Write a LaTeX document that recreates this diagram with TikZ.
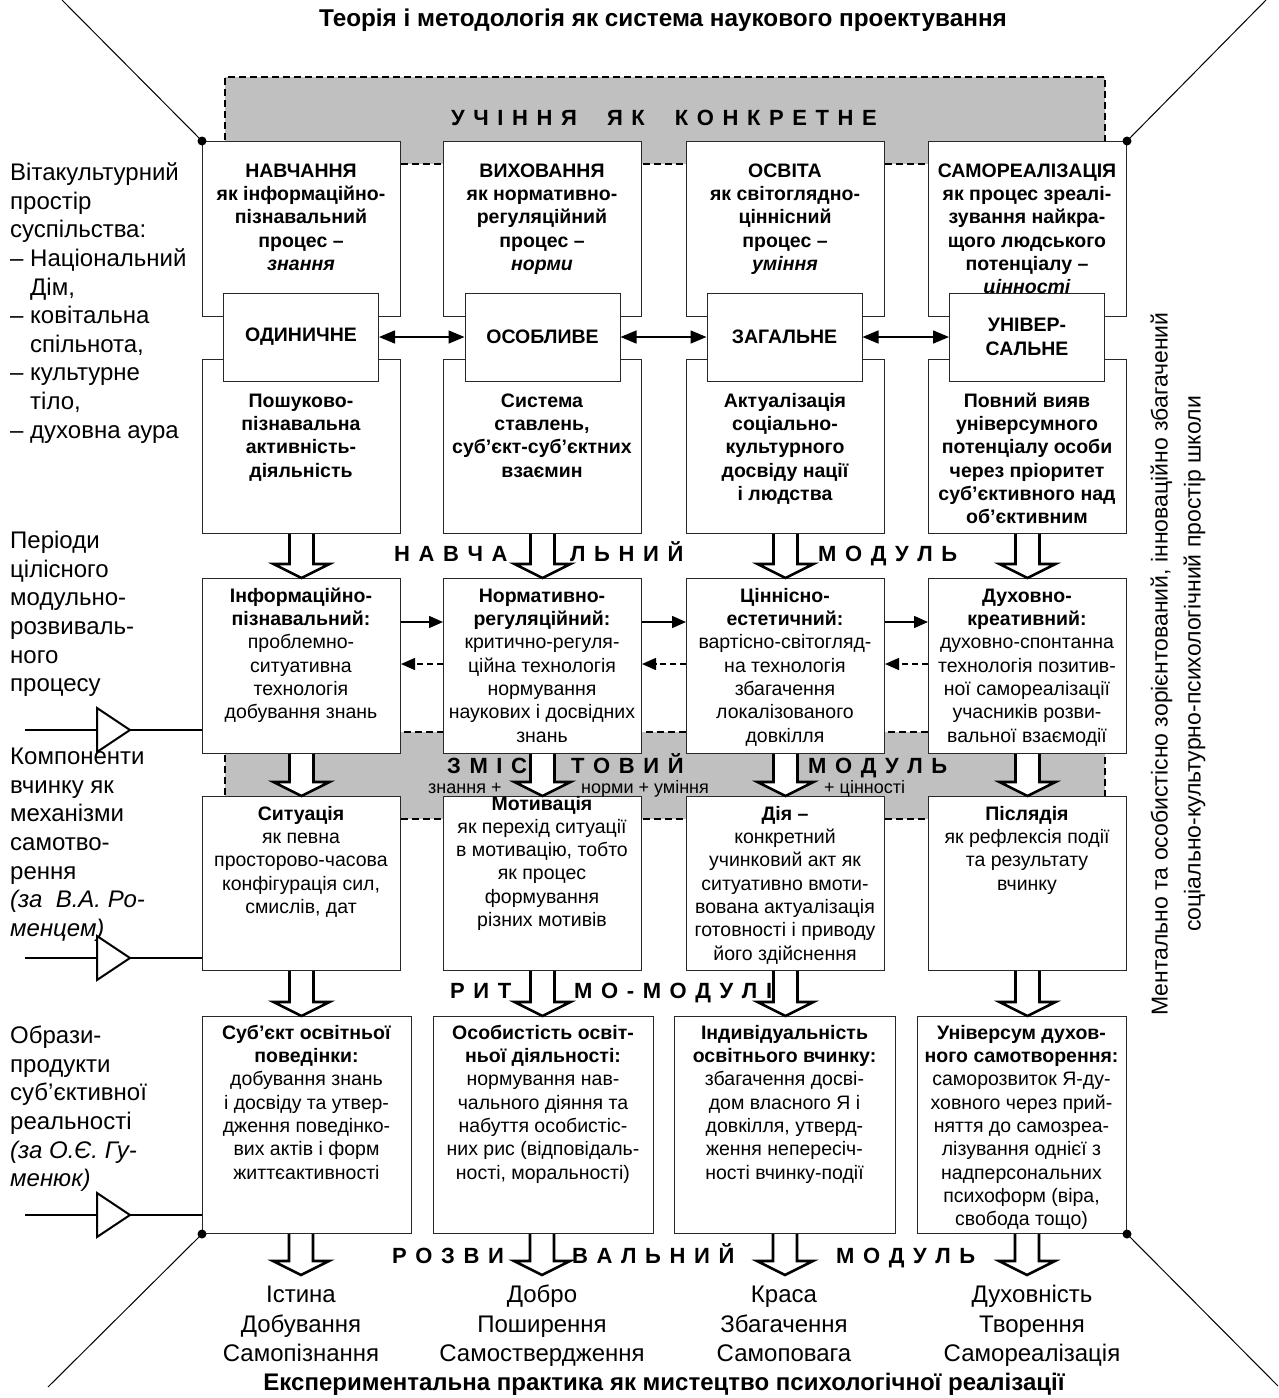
\documentclass[tikz,border=0pt]{standalone}
\usepackage{fontspec}
\setmainfont{Liberation Sans}
\usetikzlibrary{arrows.meta,calc}
\definecolor{regiongray}{RGB}{192,192,192}
\definecolor{boxline}{RGB}{40,40,40}
\newcommand\mybxfont{\fontsize{19.5}{23.3}\selectfont}
\newcommand\myleftfont{\fontsize{24}{28.6}\selectfont}
\newcommand\mybotfont{\fontsize{24}{29.5}\selectfont}
\newcommand\myspfont{\fontsize{22}{26}\selectfont\bfseries\spaceskip=8.6pt plus 0pt minus 0pt\relax}
\newcommand\mysmallfont{\fontsize{18}{21}\selectfont}
\newcommand\blockar[2]{\draw[blk] let \p1=(#1), \p2=(#2) in
  (\x1-12pt,\y1) -- (\x1-12pt,\y2+14pt) -- (\x1-28pt,\y2+14pt) -- (\x1,\y2)
  -- (\x1+28pt,\y2+14pt) -- (\x1+12pt,\y2+14pt) -- (\x1+12pt,\y1);}
\tikzset{
 box/.style={draw=boxline, line width=1pt, fill=white, inner sep=0pt, anchor=north west},
 sbox/.style={draw=boxline, line width=1pt, fill=white, inner sep=0pt, minimum width=155pt, minimum height=88pt, align=center, font=\mybxfont\bfseries},
 region/.style={draw=black, fill=regiongray, line width=1.8pt, dash pattern=on 7pt off 4pt, inner sep=0pt, anchor=north west, minimum width=880pt, minimum height=87pt},
 btxt/.style={anchor=north, inner sep=0pt, align=center, font=\mybxfont},
 bbtxt/.style={btxt, font=\mybxfont\bfseries},
 ltxt/.style={anchor=north west, inner sep=0pt, align=left, font=\myleftfont},
 bottxt/.style={anchor=north, inner sep=0pt, align=center, font=\mybotfont},
 blk/.style={draw=black, fill=white, line width=2.6pt, line join=miter},
 harrow/.style={line width=1.5pt, -{Triangle[length=14pt,width=12pt]}},
 dharrow/.style={harrow, dash pattern=on 6pt off 4pt},
 darrow/.style={line width=1.5pt, {Triangle[length=16pt,width=13pt]}-{Triangle[length=16pt,width=13pt]}},
 inl/.style={line width=2.5pt},
 tri/.style={line width=2pt, fill=white, line join=miter},
 diag/.style={line width=1pt},
 dot/.style={circle, fill=black, inner sep=0pt, minimum size=9pt},
 spaced/.style={inner sep=0pt, font=\myspfont},
 smalltxt/.style={inner sep=0pt, font=\mysmallfont},
}
\begin{document}
\begin{tikzpicture}[x=1pt,y=-1pt]
\useasboundingbox (0,0) rectangle (1278,1398);

% titles
\node[anchor=base, inner sep=0pt, font=\fontsize{24.3}{28}\selectfont\bfseries] (title) at (663,26.6) {Теорія і методологія як система наукового проектування};
\node[anchor=base, inner sep=0pt, font=\fontsize{24}{28}\selectfont\bfseries] (bottitle) at (664,1390) {Експериментальна практика як мистецтво психологічної реалізації};

% gray regions
\node[region] (g1) at (224,76) {};
\node[region] (g2) at (224,731) {};
\node[spaced, anchor=base] (uch) at (664,125) {У Ч І Н Н Я\hspace{30pt}Я К\hspace{30pt}К О Н К Р Е Т Н Е};

% top boxes
\node[box, minimum width=198pt, minimum height=175pt] (rt1) at (202,141) {};
\node[box, minimum width=198pt, minimum height=175pt] (rt2) at (443,141) {};
\node[box, minimum width=198pt, minimum height=175pt] (rt3) at (686,141) {};
\node[box, minimum width=198pt, minimum height=175pt] (rt4) at (928,141) {};
\node[bbtxt] (tt1) at (301,160.7) {\strut НАВЧАННЯ\\як інформаційно-\\пізнавальний\\процес –\\\textit{знання}};
\node[bbtxt] (tt2) at (542,160.7) {\strut ВИХОВАННЯ\\як нормативно-\\регуляційний\\процес –\\\textit{норми}};
\node[bbtxt] (tt3) at (785,160.7) {\strut ОСВІТА\\як світоглядно-\\ціннісний\\процес –\\\textit{уміння}};
\node[bbtxt] (tt4) at (1027,160.7) {\strut САМОРЕАЛІЗАЦІЯ\\як процес зреалі-\\зування найкра-\\щого людського\\потенціалу –\\\textit{цінності}};

% row 1 bottom boxes
\node[box, minimum width=198pt, minimum height=174pt] (rb1) at (202,359) {};
\node[box, minimum width=198pt, minimum height=174pt] (rb2) at (443,359) {};
\node[box, minimum width=198pt, minimum height=174pt] (rb3) at (686,359) {};
\node[box, minimum width=198pt, minimum height=174pt] (rb4) at (928,359) {};
\node[bbtxt] (tb1) at (301,390.7) {\strut Пошуково-\\пізнавальна\\активність-\\діяльність};
\node[bbtxt] (tb2) at (542,390.7) {\strut Система\\ставлень,\\суб’єкт-суб’єктних\\взаємин};
\node[bbtxt] (tb3) at (785,390.7) {\strut Актуалізація\\соціально-\\культурного\\досвіду нації\\і людства};
\node[bbtxt] (tb4) at (1027,390.7) {\strut Повний вияв\\універсумного\\потенціалу особи\\через пріоритет\\суб’єктивного над\\об’єктивним};

% small boxes
\node[sbox] (s1) at (301,337) {ОДИНИЧНЕ};
\node[sbox] (s2) at (542.5,337) {ОСОБЛИВЕ};
\node[sbox] (s3) at (784.5,337) {ЗАГАЛЬНЕ};
\node[sbox] (s4) at (1027,337) {УНІВЕР-\\САЛЬНЕ};
\draw[darrow] (s1.east) -- (s2.west);
\draw[darrow] (s2.east) -- (s3.west);
\draw[darrow] (s3.east) -- (s4.west);

% row 2
\node[box, minimum width=198pt, minimum height=175pt] (r2c1) at (202,578) {};
\node[box, minimum width=198pt, minimum height=175pt] (r2c2) at (443,578) {};
\node[box, minimum width=198pt, minimum height=175pt] (r2c3) at (686,578) {};
\node[box, minimum width=198pt, minimum height=175pt] (r2c4) at (928,578) {};
\node[btxt] (t21) at (301,585.7) {\strut\textbf{Інформаційно-}\\\textbf{пізнавальний:}\\проблемно-\\ситуативна\\технологія\\добування знань};
\node[btxt] (t22) at (542,585.7) {\strut\textbf{Нормативно-}\\\textbf{регуляційний:}\\критично-регуля-\\ційна технологія\\нормування\\наукових і досвідних\\знань};
\node[btxt] (t23) at (785,585.7) {\strut\textbf{Ціннісно-}\\\textbf{естетичний:}\\вартісно-світогляд-\\на технологія\\збагачення\\локалізованого\\довкілля};
\node[btxt] (t24) at (1027,585.7) {\strut\textbf{Духовно-}\\\textbf{креативний:}\\духовно-спонтанна\\технологія позитив-\\ної самореалізації\\учасників розви-\\вальної взаємодії};
\draw[harrow] ($(r2c1.north east)+(0,44)$) -- ($(r2c2.north west)+(0,44)$);
\draw[harrow] ($(r2c2.north east)+(0,44)$) -- ($(r2c3.north west)+(0,44)$);
\draw[harrow] ($(r2c3.north east)+(0,44)$) -- ($(r2c4.north west)+(0,44)$);
\draw[dharrow] ($(r2c2.north west)+(0,86)$) -- ($(r2c1.north east)+(0,86)$);
\draw[dharrow] ($(r2c3.north west)+(0,86)$) -- ($(r2c2.north east)+(0,86)$);
\draw[dharrow] ($(r2c4.north west)+(0,86)$) -- ($(r2c3.north east)+(0,86)$);

% row 3
\node[box, minimum width=198pt, minimum height=174pt] (r3c1) at (202,796) {};
\node[box, minimum width=198pt, minimum height=174pt] (r3c2) at (443,796) {};
\node[box, minimum width=198pt, minimum height=174pt] (r3c3) at (686,796) {};
\node[box, minimum width=198pt, minimum height=174pt] (r3c4) at (928,796) {};
\node[btxt] (t31) at (301,803.7) {\strut\textbf{Ситуація}\\як певна\\просторово-часова\\конфігурація сил,\\смислів, дат};
\node[btxt] (t32) at (542,793.5) {\strut\textbf{Мотивація}\\як перехід ситуації\\в мотивацію, тобто\\як процес\\формування\\різних мотивів};
\node[btxt] (t33) at (785,803.7) {\strut\textbf{Дія –}\\конкретний\\учинковий акт як\\ситуативно вмоти-\\вована актуалізація\\готовності і приводу\\його здійснення};
\node[btxt] (t34) at (1027,803.7) {\strut\textbf{Післядія}\\як рефлексія події\\та результату\\вчинку};

% row 4
\node[box, minimum width=209pt, minimum height=217pt] (r4c1) at (202,1016) {};
\node[box, minimum width=220pt, minimum height=217pt] (r4c2) at (433,1016) {};
\node[box, minimum width=221pt, minimum height=217pt] (r4c3) at (674,1016) {};
\node[box, minimum width=209pt, minimum height=217pt] (r4c4) at (917,1016) {};
\node[btxt] (t41) at (306.5,1022.7) {\strut\textbf{Суб’єкт освітньої}\\\textbf{поведінки:}\\добування знань\\і досвіду та утвер-\\дження поведінко-\\вих актів і форм\\життєактивності};
\node[btxt] (t42) at (543,1022.7) {\strut\textbf{Особистість освіт-}\\\textbf{ньої діяльності:}\\нормування нав-\\чального діяння та\\набуття особистіс-\\них рис (відповідаль-\\ності, моральності)};
\node[btxt] (t43) at (784.5,1022.7) {\strut\textbf{Індивідуальність}\\\textbf{освітнього вчинку:}\\збагачення досві-\\дом власного Я і\\довкілля, утверд-\\ження непересіч-\\ності вчинку-події};
\node[btxt] (t44) at (1021.5,1022.7) {\strut\textbf{Універсум духов-}\\\textbf{ного самотворення:}\\саморозвиток Я-ду-\\ховного через прий-\\няття до самозреа-\\лізування однієї з\\надперсональних\\психоформ (віра,\\свобода тощо)};

% bottom texts
\node[bottxt] (b1) at (301,1282) {\strut Істина\\Добування\\Самопізнання};
\node[bottxt] (b2) at (542,1282) {\strut Добро\\Поширення\\Самоствердження};
\node[bottxt] (b3) at (784,1282) {\strut Краса\\Збагачення\\Самоповага};
\node[bottxt] (b4) at (1032,1282) {\strut Духовність\\Творення\\Самореалізація};

% module labels
\node[spaced, anchor=base west] (n1) at (394,561) {Н А В Ч А};
\node[spaced, anchor=base west] (n2) at (570,561) {Л Ь Н И Й};
\node[spaced, anchor=base west] (n3) at (818,561) {М О Д У Л Ь};
\node[spaced, anchor=base west] (z1) at (447,773) {З М І С};
\node[spaced, anchor=base west] (z2) at (571,773) {Т О В И Й};
\node[spaced, anchor=base west] (z3) at (808,773) {М О Д У Л Ь};
\node[smalltxt, anchor=base west] (k1) at (428,793) {знання +};
\node[smalltxt, anchor=base west] (k2) at (581,793) {норми + уміння};
\node[smalltxt, anchor=base west] (k3) at (824,793) {+ цінності};
\node[spaced, anchor=base west] (rm1) at (450,998) {Р И Т};
\node[spaced, anchor=base west] (rm2) at (574,998) {М О - М О Д У Л І};
\node[spaced, anchor=base west] (rz1) at (392,1263) {Р О З В И};
\node[spaced, anchor=base west] (rz2) at (572,1263) {В А Л Ь Н И Й};
\node[spaced, anchor=base west] (rz3) at (836,1263) {М О Д У Л Ь};

% block arrows
\blockar{rb1.south}{rb1.south |- r2c1.north}
\blockar{rb2.south}{rb2.south |- r2c2.north}
\blockar{rb3.south}{rb3.south |- r2c3.north}
\blockar{rb4.south}{rb4.south |- r2c4.north}
\blockar{r2c1.south}{r2c1.south |- r3c1.north}
\blockar{r2c2.south}{r2c2.south |- r3c2.north}
\blockar{r2c3.south}{r2c3.south |- r3c3.north}
\blockar{r2c4.south}{r2c4.south |- r3c4.north}
\blockar{r3c1.south}{r3c1.south |- r4c1.north}
\blockar{r3c2.south}{r3c2.south |- r4c2.north}
\blockar{r3c3.south}{r3c3.south |- r4c3.north}
\blockar{r3c4.south}{r3c4.south |- r4c4.north}
\coordinate (e1) at (301,1275);
\coordinate (e2) at (542,1275);
\coordinate (e3) at (785,1275);
\coordinate (e4) at (1027,1275);
\blockar{r4c1.south -| e1}{e1}
\blockar{r4c2.south -| e2}{e2}
\blockar{r4c3.south -| e3}{e3}
\blockar{r4c4.south -| e4}{e4}

% left texts
\node[ltxt] (L1) at (10,160.4) {\strut Вітакультурний\\простір\\суспільства:\\– Національний\\\hspace*{20pt}Дім,\\– ковітальна\\\hspace*{20pt}спільнота,\\– культурне\\\hspace*{20pt}тіло,\\– духовна аура};
\node[ltxt] (L2) at (10,528.4) {\strut Періоди\\цілісного\\модульно-\\розвиваль-\\ного\\процесу};
\node[ltxt] (L3) at (10,744.4) {\strut Компоненти\\вчинку як\\механізми\\самотво-\\рення\\\textit{(за\ \ В.А. Ро-}\\\textit{менцем)}};
\node[ltxt] (L4) at (10,1023.4) {\strut Образи-\\продукти\\суб’єктивної\\реальності\\\textit{(за О.Є. Гу-}\\\textit{менюк)}};

% input lines
\coordinate (in1) at (25,730);
\coordinate (in2) at (25,958);
\coordinate (in3) at (25,1215);
\draw[inl] (in1) -- (in1 -| r2c1.west);
\draw[inl] (in2) -- (in2 -| r3c1.west);
\draw[inl] (in3) -- (in3 -| r4c1.west);
\draw[tri] ($(in1)+(72,-22)$) -- ($(in1)+(105,0)$) -- ($(in1)+(72,22)$) -- cycle;
\draw[tri] ($(in2)+(72,-22)$) -- ($(in2)+(105,0)$) -- ($(in2)+(72,22)$) -- cycle;
\draw[tri] ($(in3)+(72,-22)$) -- ($(in3)+(105,0)$) -- ($(in3)+(72,22)$) -- cycle;

% right vertical text
\node[rotate=90, align=center, inner sep=0pt, font=\fontsize{23}{33}\selectfont] (vt) at (1178,664) {Ментально та особистісно зорієнтований, інноваційно збагачений\\соціально-культурно-психологічний простір школи};

% diagonals
\coordinate (c1) at (62,0);
\coordinate (c2) at (1266,0);
\coordinate (c3) at (48,1387);
\coordinate (c4) at (1278,1386);
\draw[diag] (c1) -- (rt1.north west);
\draw[diag] (c2) -- (rt4.north east);
\draw[diag] (r4c1.south west) -- (c3);
\draw[diag] (r4c4.south east) -- (c4);
\node[dot] (p1) at (rt1.north west) {};
\node[dot] (p2) at (rt4.north east) {};
\node[dot] (p3) at (r4c1.south west) {};
\node[dot] (p4) at (r4c4.south east) {};
\end{tikzpicture}
\end{document}
